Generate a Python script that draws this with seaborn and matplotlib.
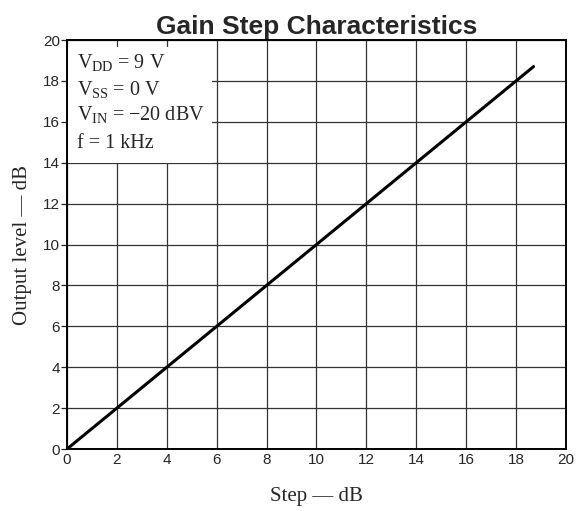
import matplotlib
matplotlib.use("Agg")
import matplotlib.pyplot as plt
import seaborn as sns
import pandas as pd
from matplotlib.patches import Rectangle

steps = [0, 2, 4, 6, 8, 10, 12, 14, 16, 18, 18.7]
output = [0, 2, 4, 6, 8, 10, 12, 14, 16, 18, 18.7]
ticks = [0, 2, 4, 6, 8, 10, 12, 14, 16, 18, 20]
conditions = [r"$\mathregular{V_{DD}}$ = 9 V", r"$\mathregular{V_{SS}}$ = 0 V",
              r"$\mathregular{V_{IN}}$ = " + "\u221220 dBV", "f = 1 kHz"]

sns.set_style("ticks")
plt.rcParams["font.family"] = ["Liberation Sans", "DejaVu Sans"]
plt.rcParams["mathtext.fontset"] = "custom"
plt.rcParams["mathtext.rm"] = "Liberation Serif"

df = pd.DataFrame({"Step": steps, "Output": output})
fig = plt.figure(figsize=(5.85, 5.11), dpi=100)
ax = fig.add_axes([0.1145, 0.1213, 0.853, 0.8004])
sns.lineplot(data=df, x="Step", y="Output", ax=ax, color="black", linewidth=2.2, zorder=5)

ax.set_xlim(0, 20)
ax.set_ylim(0, 20)
ax.set_xticks(ticks)
ax.set_yticks(ticks)
ax.grid(True, color="#333333", linewidth=0.9)
ax.set_axisbelow(True)
ax.tick_params(axis="x", length=0, labelsize=11, pad=3)
ax.tick_params(axis="y", direction="out", length=4, width=0.9, color="#222222", labelsize=11, pad=1)
for s in ax.spines.values():
    s.set_color("black")
    s.set_linewidth(1.4)

ax.add_patch(Rectangle((0.003, 0.70), 0.287, 0.283, transform=ax.transAxes,
                       facecolor="white", edgecolor="none", zorder=2))
ys = [0.944, 0.878, 0.817, 0.748]
for y, t in zip(ys, conditions):
    ax.text(0.02, y, t, transform=ax.transAxes,
            fontsize=14.5, family="Liberation Serif", va="center", ha="left", zorder=3)

ax.set_xlabel("Step \u2014 dB", family="Liberation Serif", fontsize=15, labelpad=14)
ax.set_ylabel("Output level \u2014 dB", family="Liberation Serif", fontsize=15, labelpad=8)
ax.set_title("Gain Step Characteristics", fontsize=19, fontweight="bold", pad=4)

fig.savefig("out.png", dpi=100)
